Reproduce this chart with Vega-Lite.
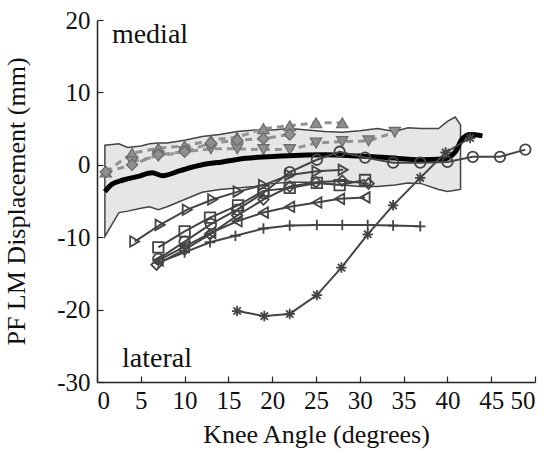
{
  "$schema": "https://vega.github.io/schema/vega-lite/v6.json",
  "width": 438,
  "height": 362,
  "autosize": {"type": "none"},
  "padding": {"left": 97, "top": 20, "right": 15, "bottom": 72},
  "background": "white",
  "config": {
    "view": {"stroke": null},
    "font": "Liberation Serif",
    "axis": {
      "domainColor": "#222",
      "domainWidth": 1.5,
      "tickColor": "#222",
      "tickWidth": 1.2,
      "tickSize": -6,
      "grid": false,
      "labelFont": "Liberation Serif",
      "labelFontSize": 25,
      "labelColor": "#111",
      "titleFont": "Liberation Serif",
      "titleFontSize": 26,
      "titleFontWeight": "normal",
      "titleColor": "#111"
    }
  },
  "resolve": {"scale": {"shape": "independent"}},
  "datasets": {
    "band": [
      {"x": 0.9, "upper": 2.7, "lower": -9.9},
      {"x": 2.5, "upper": 2.9, "lower": -6.6},
      {"x": 3.5, "upper": 2.4, "lower": -6.4},
      {"x": 5, "upper": 2.6, "lower": -6.0},
      {"x": 6, "upper": 2.9, "lower": -5.8},
      {"x": 7, "upper": 3.0, "lower": -6.2},
      {"x": 8, "upper": 3.0, "lower": -5.8},
      {"x": 10, "upper": 3.4, "lower": -4.8},
      {"x": 12, "upper": 3.9, "lower": -3.8},
      {"x": 14, "upper": 4.2, "lower": -3.4},
      {"x": 16, "upper": 4.6, "lower": -3.2},
      {"x": 18, "upper": 4.8, "lower": -3.0},
      {"x": 20, "upper": 4.8, "lower": -2.6},
      {"x": 22, "upper": 5.0, "lower": -2.4},
      {"x": 24, "upper": 4.8, "lower": -2.4},
      {"x": 26, "upper": 4.6, "lower": -2.6},
      {"x": 28, "upper": 4.5, "lower": -2.8},
      {"x": 30, "upper": 4.7, "lower": -3.0},
      {"x": 32, "upper": 5.0, "lower": -3.0},
      {"x": 34, "upper": 4.6, "lower": -2.8},
      {"x": 35.5, "upper": 5.1, "lower": -2.5},
      {"x": 37, "upper": 5.0, "lower": -2.6},
      {"x": 39, "upper": 5.0, "lower": -3.4},
      {"x": 40, "upper": 6.0, "lower": -3.7},
      {"x": 40.9, "upper": 6.6, "lower": -3.5},
      {"x": 41.5, "upper": 5.5, "lower": -3.4}
    ],
    "mean": [
      {"x": 0.9, "y": -3.7}, {"x": 1.7, "y": -2.7}, {"x": 3, "y": -2.1},
      {"x": 4.7, "y": -1.6}, {"x": 6.3, "y": -1.1}, {"x": 7.5, "y": -1.5},
      {"x": 9.5, "y": -0.8}, {"x": 12, "y": 0}, {"x": 14.3, "y": 0.4},
      {"x": 17, "y": 0.9}, {"x": 21, "y": 1.2}, {"x": 26, "y": 1.4},
      {"x": 30, "y": 1.2}, {"x": 33, "y": 1.0}, {"x": 37, "y": 0.7},
      {"x": 39.5, "y": 0.8}, {"x": 40.9, "y": 1.8}, {"x": 41.7, "y": 3.6},
      {"x": 42.6, "y": 4.2}, {"x": 44, "y": 4.0}
    ],
    "gray": [
      {"s": "up", "x": 1, "y": -1}, {"s": "up", "x": 4, "y": 1.6}, {"s": "up", "x": 7, "y": 2.3},
      {"s": "up", "x": 10, "y": 2.6}, {"s": "up", "x": 13, "y": 3.4}, {"s": "up", "x": 16, "y": 3.8},
      {"s": "up", "x": 19, "y": 5.0}, {"s": "up", "x": 22, "y": 5.4}, {"s": "up", "x": 25, "y": 5.8},
      {"s": "up", "x": 28, "y": 5.8},
      {"s": "dn", "x": 4, "y": 0.4}, {"s": "dn", "x": 7, "y": 1.2}, {"s": "dn", "x": 10, "y": 1.8},
      {"s": "dn", "x": 13, "y": 2.2}, {"s": "dn", "x": 16, "y": 2.2}, {"s": "dn", "x": 19, "y": 2.1},
      {"s": "dn", "x": 22, "y": 2.1}, {"s": "dn", "x": 25, "y": 3.0}, {"s": "dn", "x": 28, "y": 3.2},
      {"s": "dn", "x": 31, "y": 3.3}, {"s": "dn", "x": 34, "y": 4.5},
      {"s": "gd", "x": 1, "y": -1.0}, {"s": "gd", "x": 4, "y": 0.0}, {"s": "gd", "x": 7, "y": 1.4},
      {"s": "gd", "x": 10, "y": 1.8}, {"s": "gd", "x": 13, "y": 3.0}, {"s": "gd", "x": 16, "y": 3.4},
      {"s": "gd", "x": 19, "y": 3.6}, {"s": "gd", "x": 22, "y": 4.2}
    ],
    "dark": [
      {"s": "rt", "x": 4.3, "y": -10.6}, {"s": "rt", "x": 7.2, "y": -8.3}, {"s": "rt", "x": 10.3, "y": -6.2},
      {"s": "rt", "x": 13.2, "y": -4.8}, {"s": "rt", "x": 16.1, "y": -3.7}, {"s": "rt", "x": 19, "y": -2.8},
      {"s": "rt", "x": 22, "y": -1.4}, {"s": "rt", "x": 25.1, "y": -0.9}, {"s": "rt", "x": 28.1, "y": -0.7},
      {"s": "sq", "x": 7, "y": -11.4}, {"s": "sq", "x": 10, "y": -9.2}, {"s": "sq", "x": 12.9, "y": -7.3},
      {"s": "sq", "x": 16.1, "y": -5.6}, {"s": "sq", "x": 19, "y": -3.6}, {"s": "sq", "x": 22, "y": -3.2},
      {"s": "sq", "x": 25.1, "y": -2.5}, {"s": "sq", "x": 27.7, "y": -2.8}, {"s": "sq", "x": 30.6, "y": -2.1},
      {"s": "dm", "x": 6.8, "y": -13.8}, {"s": "dm", "x": 10, "y": -11.7}, {"s": "dm", "x": 12.9, "y": -9.6},
      {"s": "dm", "x": 16, "y": -7.0}, {"s": "dm", "x": 19, "y": -4.8}, {"s": "dm", "x": 22, "y": -3.0},
      {"s": "dm", "x": 25, "y": -2.4}, {"s": "dm", "x": 28, "y": -2.2}, {"s": "dm", "x": 31, "y": -2.6},
      {"s": "lt", "x": 7, "y": -13.2}, {"s": "lt", "x": 10, "y": -11.3}, {"s": "lt", "x": 13, "y": -9.4},
      {"s": "lt", "x": 16, "y": -7.8}, {"s": "lt", "x": 19, "y": -6.6}, {"s": "lt", "x": 22, "y": -5.8},
      {"s": "lt", "x": 25.1, "y": -5.2}, {"s": "lt", "x": 27.7, "y": -4.7}, {"s": "lt", "x": 30.6, "y": -4.5},
      {"s": "ci", "x": 7, "y": -13.0}, {"s": "ci", "x": 10, "y": -10.6}, {"s": "ci", "x": 13, "y": -8.2},
      {"s": "ci", "x": 16, "y": -6.2}, {"s": "ci", "x": 19, "y": -3.9}, {"s": "ci", "x": 22, "y": -1.0},
      {"s": "ci", "x": 25.1, "y": 0.7}, {"s": "ci", "x": 27.7, "y": 1.8}, {"s": "ci", "x": 30.6, "y": 1.0},
      {"s": "ci", "x": 33.8, "y": 0.3}, {"s": "ci", "x": 36.9, "y": 0.3}, {"s": "ci", "x": 40, "y": 0.4},
      {"s": "ci", "x": 42.9, "y": 1.1}, {"s": "ci", "x": 46, "y": 1.1}, {"s": "ci", "x": 48.9, "y": 2.1},
      {"s": "pl", "x": 7, "y": -13.5}, {"s": "pl", "x": 10, "y": -12.1}, {"s": "pl", "x": 12.9, "y": -10.7},
      {"s": "pl", "x": 15.8, "y": -9.8}, {"s": "pl", "x": 19, "y": -8.8}, {"s": "pl", "x": 22, "y": -8.4},
      {"s": "pl", "x": 25.1, "y": -8.3}, {"s": "pl", "x": 28, "y": -8.3}, {"s": "pl", "x": 30.9, "y": -8.3},
      {"s": "pl", "x": 33.8, "y": -8.4}, {"s": "pl", "x": 36.9, "y": -8.5},
      {"s": "as", "x": 16, "y": -20.2}, {"s": "as", "x": 19.1, "y": -20.9}, {"s": "as", "x": 22, "y": -20.6},
      {"s": "as", "x": 25.1, "y": -18.0}, {"s": "as", "x": 27.9, "y": -14.2}, {"s": "as", "x": 30.9, "y": -9.6},
      {"s": "as", "x": 33.8, "y": -5.6}, {"s": "as", "x": 36.9, "y": -1.8}, {"s": "as", "x": 39.8, "y": 1.7},
      {"s": "as", "x": 42.6, "y": 3.7}
    ],
    "labels": [
      {"x": 1.7, "y": 16.8, "t": "medial"},
      {"x": 2.85, "y": -27.9, "t": "lateral"}
    ]
  },
  "layer": [
    {
      "data": {"name": "band"},
      "mark": {"type": "area", "fill": "#e6e6e6", "stroke": "#444", "strokeWidth": 1.5},
      "encoding": {
        "x": {"field": "x", "type": "quantitative",
              "scale": {"domain": [0, 50], "nice": false},
              "axis": {"values": [0,5,10,15,20,25,30,35,40,45,50], "title": "Knee Angle (degrees)",
                       "labelFont": "Liberation Serif", "labelPadding": 12, "titlePadding": 8}},
        "y": {"field": "upper", "type": "quantitative",
              "scale": {"domain": [-30, 20], "nice": false},
              "axis": {"values": [-30,-25,-20,-15,-10,-5,0,5,10,15,20],
                       "labelExpr": "datum.value % 10 === 0 ? '' + datum.value : ''",
                       "labelFont": "Liberation Serif",
                       "title": "PF LM Displacement (mm)", "labelPadding": 13, "titlePadding": 27}},
        "y2": {"field": "lower"}
      }
    },
    {
      "data": {"name": "gray"},
      "mark": {"type": "line", "color": "#939393", "strokeWidth": 3, "strokeDash": [7, 5]},
      "encoding": {
        "x": {"field": "x", "type": "quantitative"},
        "y": {"field": "y", "type": "quantitative"},
        "detail": {"field": "s"}
      }
    },
    {
      "data": {"name": "gray"},
      "mark": {"type": "point", "filled": true, "fill": "#8f8f8f", "stroke": "#6a6a6a", "strokeWidth": 1.2, "size": 130, "opacity": 1},
      "encoding": {
        "x": {"field": "x", "type": "quantitative"},
        "y": {"field": "y", "type": "quantitative"},
        "shape": {"field": "s", "type": "nominal", "legend": null,
                  "scale": {"domain": ["up", "dn", "gd"], "range": ["triangle-up", "triangle-down", "diamond"]}}
      }
    },
    {
      "data": {"name": "mean"},
      "mark": {"type": "line", "color": "#000", "strokeWidth": 5, "interpolate": "monotone"},
      "encoding": {
        "x": {"field": "x", "type": "quantitative"},
        "y": {"field": "y", "type": "quantitative"}
      }
    },
    {
      "data": {"name": "dark"},
      "mark": {"type": "line", "color": "#444", "strokeWidth": 2},
      "encoding": {
        "x": {"field": "x", "type": "quantitative"},
        "y": {"field": "y", "type": "quantitative"},
        "detail": {"field": "s"}
      }
    },
    {
      "data": {"name": "dark"},
      "mark": {"type": "point", "filled": false, "stroke": "#444", "strokeWidth": 1.8, "size": 110, "opacity": 1},
      "encoding": {
        "x": {"field": "x", "type": "quantitative"},
        "y": {"field": "y", "type": "quantitative"},
        "shape": {"field": "s", "type": "nominal", "legend": null,
                  "scale": {"domain": ["rt", "sq", "dm", "lt", "ci", "pl", "as"],
                            "range": ["triangle-right", "square", "diamond", "triangle-left", "circle",
                                      "M-1,0L1,0M0,-1L0,1",
                                      "M-1,0L1,0M0,-1L0,1M-0.7,-0.7L0.7,0.7M-0.7,0.7L0.7,-0.7"]}}
      }
    },
    {
      "data": {"name": "labels"},
      "mark": {"type": "text", "align": "left", "baseline": "alphabetic", "fontSize": 28, "font": "Liberation Serif", "color": "#111"},
      "encoding": {
        "x": {"field": "x", "type": "quantitative"},
        "y": {"field": "y", "type": "quantitative"},
        "text": {"field": "t"}
      }
    }
  ]
}
